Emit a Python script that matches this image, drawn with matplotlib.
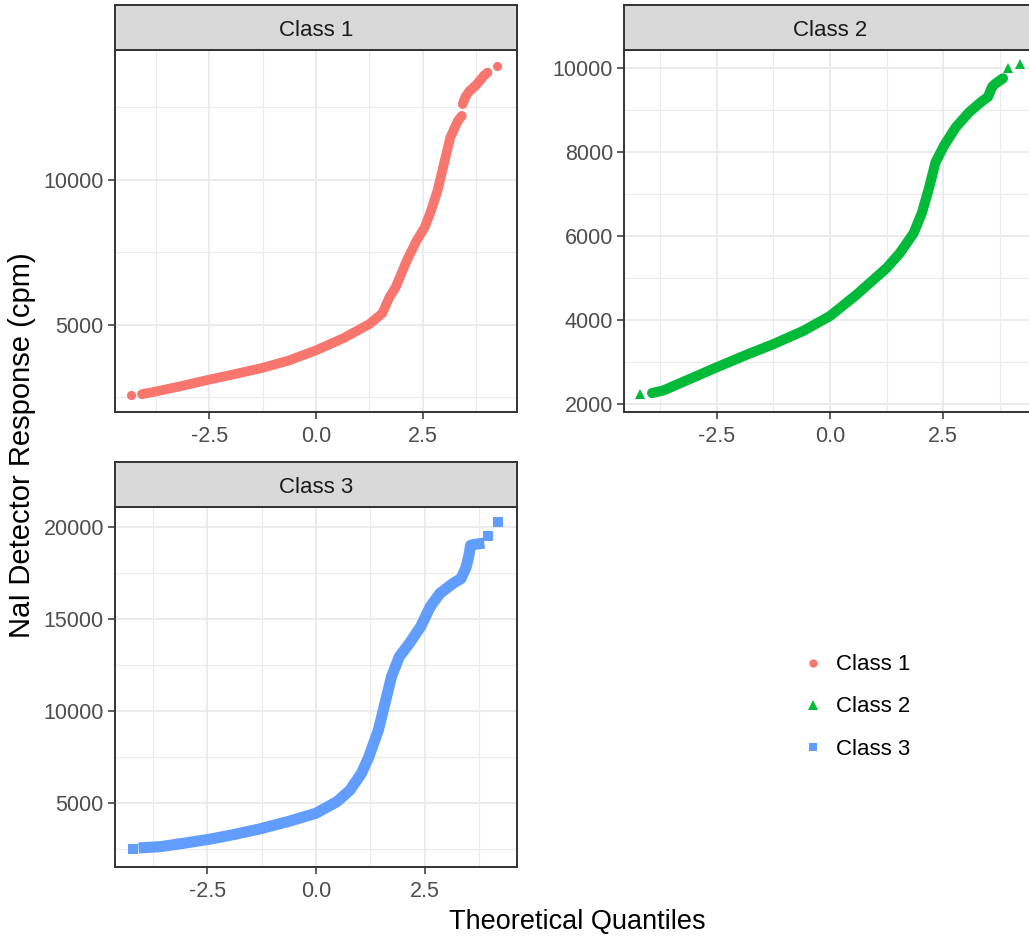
import numpy as np
import matplotlib
matplotlib.use("Agg")
import matplotlib.pyplot as plt
from matplotlib.lines import Line2D
from matplotlib.ticker import FixedLocator

plt.rcParams['font.family'] = ['Liberation Sans', 'DejaVu Sans']

labels = ['Class 1', 'Class 2', 'Class 3']
colors = ['#F8766D', '#00BA38', '#619CFF']
markers = ['o', '^', 's']

# dense part of each QQ curve (theoretical quantile, NaI response in cpm)
class1_q = [-4.07, -3.75, -3.14, -2.54, -1.93, -1.25, -0.64, 0.0, 0.64, 1.25, 1.55, 1.72,
            1.86, 2.12, 2.35, 2.54, 2.69, 2.84, 2.99, 3.14, 3.32, 3.41]
class1_v = [2614, 2705, 2898, 3103, 3296, 3523, 3773, 4125, 4545, 5034, 5400, 5966,
            6290, 7210, 7900, 8360, 8935, 9625, 10545, 11465, 12040, 12210]
# class 1 has a small jump near q = 3.4, the upper run continues here
class1_top_q = [3.43, 3.50, 3.58, 3.66, 3.75, 3.84, 3.93, 4.01]
class1_top_v = [12615, 12880, 13050, 13160, 13280, 13440, 13600, 13700]
# isolated extreme points
class1_tail_q = [-4.32, 4.24]
class1_tail_v = [2600, 13940]

class2_q = [-3.93, -3.68, -3.09, -2.5, -1.84, -1.25, -0.59, 0.0, 0.59, 1.25, 1.54, 1.85,
            2.03, 2.18, 2.33, 2.52, 2.78, 3.08, 3.34, 3.49, 3.58, 3.66, 3.74, 3.82]
class2_v = [2268, 2330, 2606, 2882, 3181, 3433, 3748, 4102, 4614, 5244, 5598, 6080,
            6560, 7120, 7760, 8160, 8600, 8960, 9200, 9320, 9560, 9640, 9700, 9760]
class2_tail_q = [-4.19, 3.94, 4.20]
class2_tail_v = [2236, 10000, 10096]

class3_q = [-3.96, -3.59, -3.07, -2.48, -1.89, -1.30, -0.63, 0.0, 0.48, 0.78, 1.04, 1.21,
            1.44, 1.59, 1.74, 1.92, 2.15, 2.41, 2.63, 2.85, 3.15, 3.34, 3.46, 3.53,
            3.56, 3.64, 3.75]
class3_v = [2553, 2607, 2785, 3000, 3268, 3571, 3982, 4428, 5054, 5679, 6572, 7450,
            8977, 10423, 11868, 12953, 13675, 14579, 15663, 16386, 16928, 17199, 17832, 18554,
            19006, 19060, 19096]
class3_tail_q = [-4.22, 3.96, 4.20]
class3_tail_v = [2500, 19548, 20271]

x_major = [-2.5, 0.0, 2.5]
x_minor = [-3.75, -1.25, 1.25, 3.75]
y_major = [[5000, 10000], [2000, 4000, 6000, 8000, 10000], [5000, 10000, 15000, 20000]]
y_minor = [[2500, 7500, 12500], [3000, 5000, 7000, 9000], [2500, 7500, 12500, 17500]]

W, H = 1029, 936
fig = plt.figure(figsize=(W / 100, H / 100), dpi=100)


def px_rect(left, top, right, bottom):
    return [left / W, 1 - bottom / H, (right - left) / W, (bottom - top) / H]


# panel boxes in pixels: left, top, right, bottom
panels = [(115, 50, 517, 412), (624, 50, 1036, 412), (115, 507, 517, 867)]
xlims = [(-4.7, 4.7), (-4.55, 4.55), (-4.63, 4.63)]
ylims = [(2000, 14480), (1817, 10436), (1500, 21100)]
bands = [[(class1_q, class1_v), (class1_top_q, class1_top_v)],
         [(class2_q, class2_v)],
         [(class3_q, class3_v)]]
tails = [(class1_tail_q, class1_tail_v), (class2_tail_q, class2_tail_v),
         (class3_tail_q, class3_tail_v)]
band_lw = [7.0, 7.3, 8.0]
msize = [6.6, 7.2, 7.0]

for i in range(3):
    l, t, r, b = panels[i]
    ax = fig.add_axes(px_rect(l, t, r, b))
    ax.set_xlim(*xlims[i])
    ax.set_ylim(*ylims[i])
    ax.xaxis.set_major_locator(FixedLocator(x_major))
    ax.xaxis.set_minor_locator(FixedLocator(x_minor))
    ax.yaxis.set_major_locator(FixedLocator(y_major[i]))
    ax.yaxis.set_minor_locator(FixedLocator(y_minor[i]))
    ax.set_xticklabels([f"{v:.1f}" for v in x_major])
    ax.set_yticklabels([str(v) for v in y_major[i]])
    ax.grid(which='major', color='#EBEBEB', lw=1.4)
    ax.grid(which='minor', color='#EBEBEB', lw=0.8)
    ax.set_axisbelow(True)
    ax.tick_params(which='major', length=5, width=1.1, color='#333333',
                   labelsize=15.5, labelcolor='#4D4D4D', pad=3)
    ax.tick_params(axis='x', which='major', pad=5)
    ax.tick_params(which='minor', length=0)
    for s in ax.spines.values():
        s.set_color('#333333')
        s.set_linewidth(1.4)

    for q, v in bands[i]:
        ax.plot(q, v, color=colors[i], lw=band_lw[i],
                solid_capstyle='round' if i < 2 else 'projecting',
                solid_joinstyle='round')
    tq, tv = tails[i]
    ax.plot(tq, tv, ls='none', marker=markers[i], ms=msize[i], color=colors[i], mew=0)

    # facet strip
    sax = fig.add_axes(px_rect(l, t - 45, r, t))
    sax.set_facecolor('#D9D9D9')
    sax.set_xticks([])
    sax.set_yticks([])
    for s in sax.spines.values():
        s.set_color('#333333')
        s.set_linewidth(1.4)
    sax.text(0.5, 0.44, labels[i], ha='center', va='center', fontsize=16,
             color='#1A1A1A', transform=sax.transAxes)

fig.text(22 / W, 1 - 445 / H, 'NaI Detector Response (cpm)', rotation=90,
         ha='center', va='center', fontsize=21)
fig.text(577 / W, 1 - 922 / H, 'Theoretical Quantiles', ha='center', va='center',
         fontsize=19.5)

handles = [Line2D([], [], ls='none', marker=markers[i], ms=msize[i] - 0.6,
                  color=colors[i], mew=0) for i in range(3)]
fig.legend(handles, labels, loc='center left', bbox_to_anchor=(776 / W, 1 - 707 / H),
           frameon=False, fontsize=16, handletextpad=0.3, labelspacing=0.95,
           handlelength=1.5)

fig.savefig('out.png', dpi=100)
